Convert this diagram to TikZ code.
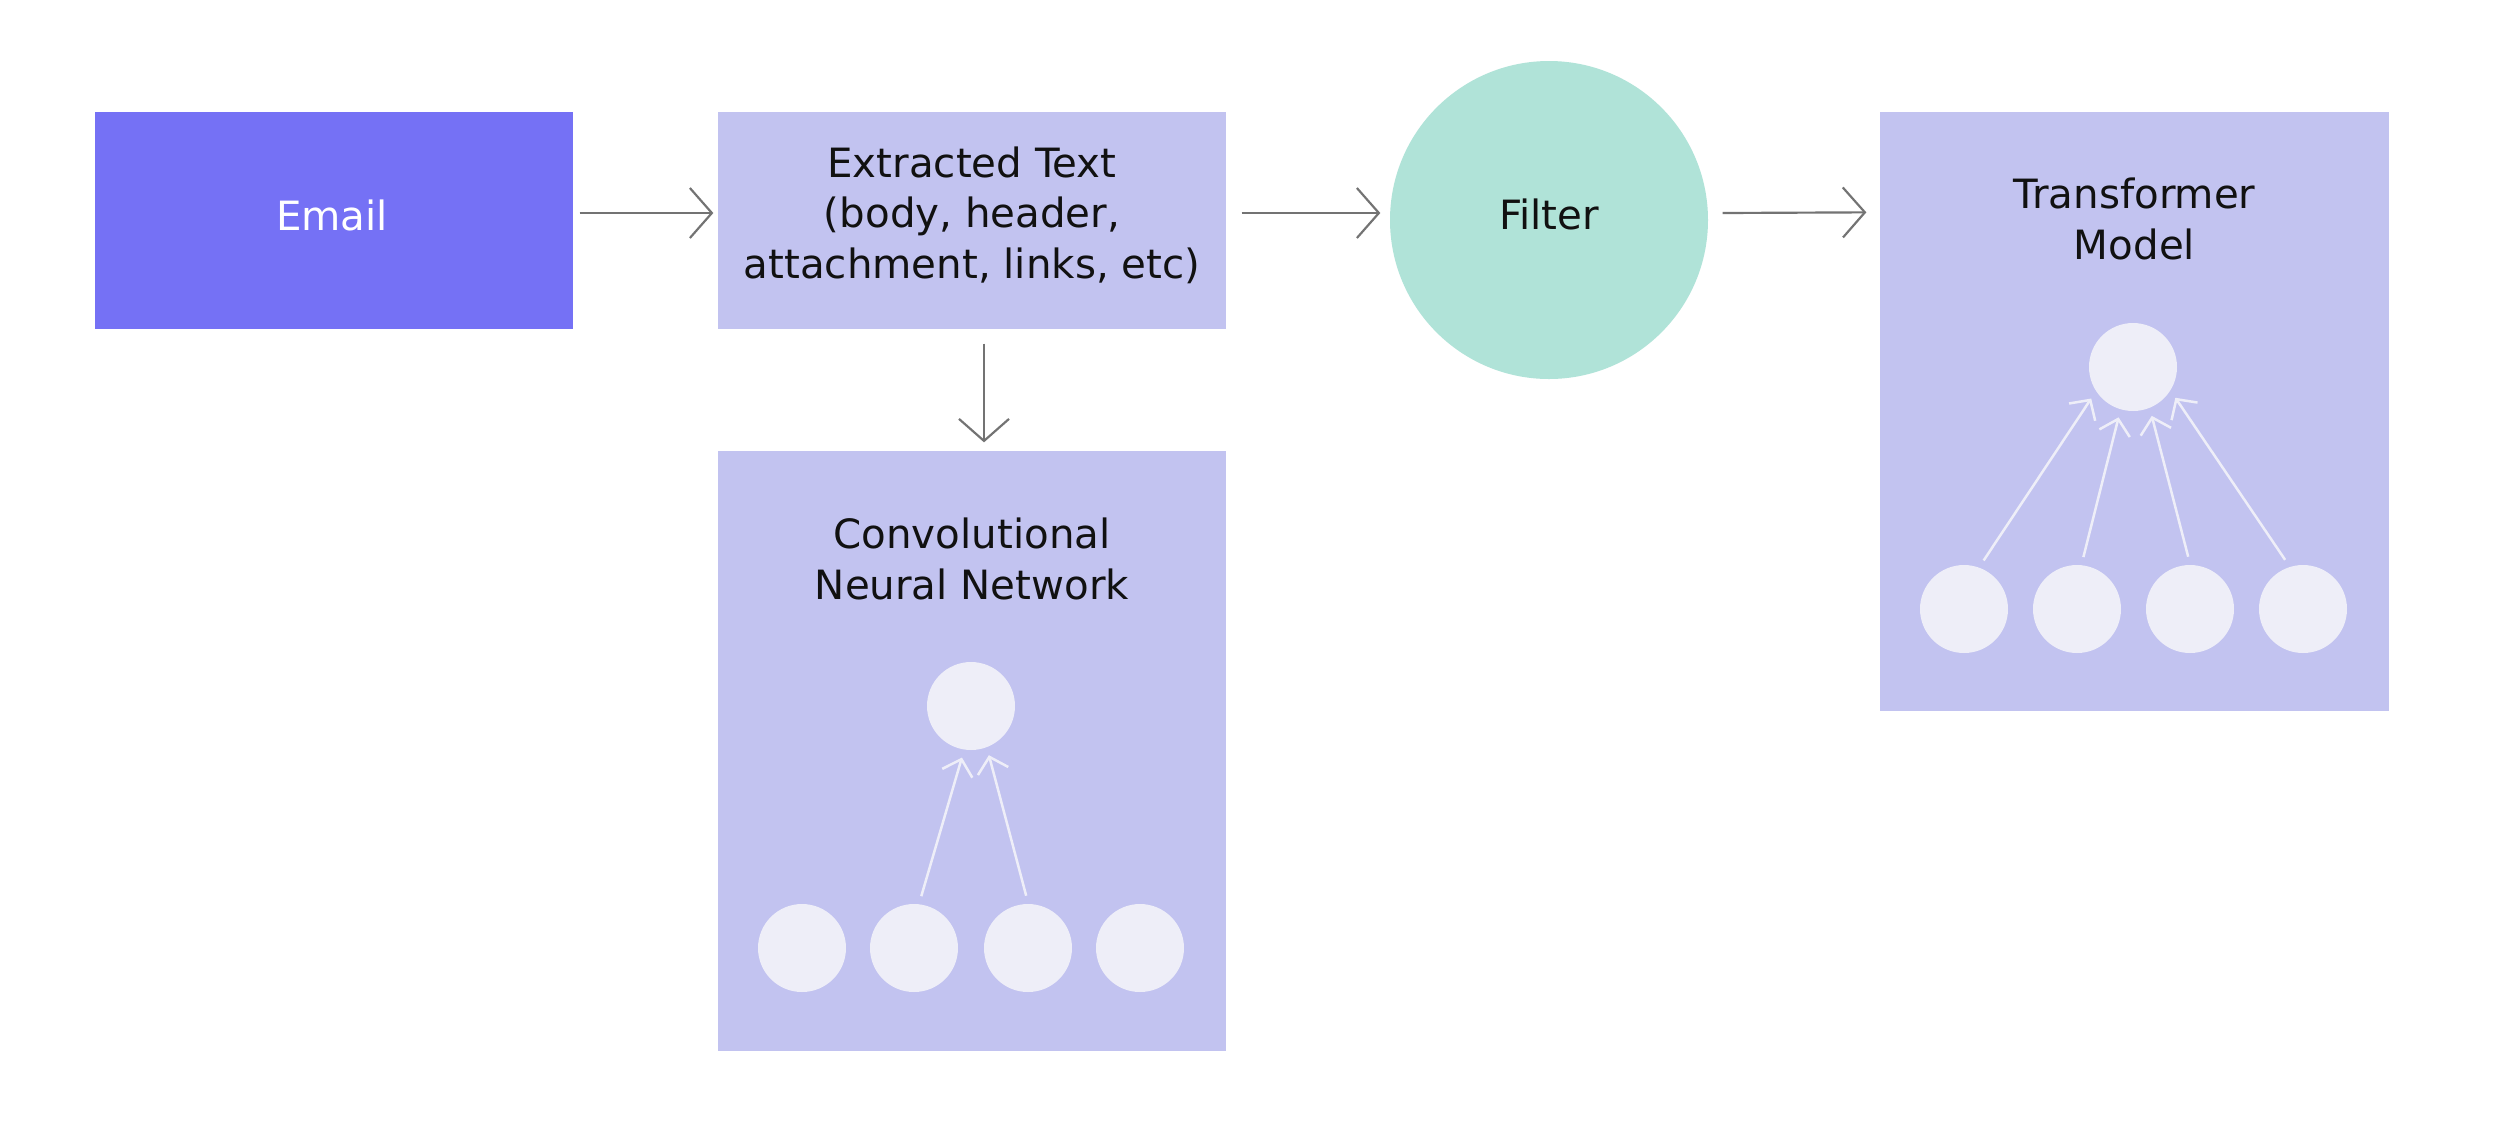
\documentclass[tikz,border=0pt]{standalone}
\usepackage{fontspec}
\setmainfont{DejaVu Sans}
\usetikzlibrary{arrows.meta,calc}
\definecolor{emailc}{HTML}{7571F5}
\definecolor{boxc}{HTML}{C2C3F0}
\definecolor{filterc}{HTML}{B0E3D8}
\definecolor{dotc}{HTML}{EEEEF8}
\definecolor{arrowc}{HTML}{737373}
\definecolor{textc}{HTML}{111111}
\begin{document}
\begin{tikzpicture}[x=0.3pt,y=-0.3pt,
  font=\fontsize{12.1pt}{15.2pt}\selectfont,
  lightbox/.style={rectangle, fill=boxc, inner sep=0pt, minimum width=152.4pt},
  label/.style={align=center, text=textc, inner sep=0pt},
  dot/.style={circle, fill=dotc, inner sep=0pt, minimum size=26.4pt, outer sep=2.5pt},
  flow/.style={draw=arrowc, line width=0.65pt, -{Straight Barb[length=6.6pt, width=15pt, line width=0.65pt]}},
  warrow/.style={draw=dotc, line width=0.75pt, -{Straight Barb[length=4.4pt, width=9.4pt, line width=0.75pt]}}
]
\useasboundingbox[fill=white] (0,0) rectangle (2517,1130);

% main nodes
\node[rectangle, fill=emailc, inner sep=0pt, minimum width=143.4pt, minimum height=65.1pt] (email) at (334,220.5) {};
\node[label, text=white] (emailtext) at (332,215) {Email};
\node[lightbox, minimum height=65.1pt] (ext) at (972,220.5) {};
\node[label] (exttext) at (972,215) {Extracted Text\\(body, header,\\attachment, links, etc)};
\node[circle, fill=filterc, inner sep=0pt, minimum size=95.4pt] (filter) at (1549,220) {};
\node[label] (filtertext) at (1549,214) {Filter};
\node[lightbox, minimum width=152.7pt, minimum height=179.7pt] (tr) at (2134.5,411.5) {};
\node[label] (trtext) at (2134.5,219) {Transformer\\Model};
\node[lightbox, minimum height=180pt] (cnn) at (972,751) {};
\node[label] (cnntext) at (972,559) {Convolutional\\Neural Network};

% CNN small network
\node[dot] (ctop) at (971,706) {};
\node[dot] (cb1) at (802,948) {};
\node[dot] (cb2) at (914,948) {};
\node[dot] (cb3) at (1028,948) {};
\node[dot] (cb4) at (1140,948) {};
\draw[warrow] (cb2.82) -- (ctop.260);
\draw[warrow] (cb3.92) -- (ctop.290);

% Transformer small network
\node[dot] (ttop) at (2133,367) {};
\node[dot] (tb1) at (1964,609) {};
\node[dot] (tb2) at (2077,609) {};
\node[dot] (tb3) at (2190,609) {};
\node[dot] (tb4) at (2303,609) {};
\draw[warrow] (tb1.68) -- (ttop.217);
\draw[warrow] (tb2.83) -- (ttop.254);
\draw[warrow] (tb3.92) -- (ttop.291);
\draw[warrow] (tb4.110) -- (ttop.324);

% main connectors
\draw[flow] ($(email.east)+(6,-7.5)$) -- ($(ext.west)+(-4,-7.5)$);
\draw[flow] ($(ext.east)+(15,-7.5)$) -- ($(filter.west)+(-9,-7)$);
\draw[flow] ($(filter.east)+(14,-7)$) -- ($(tr.north west)+(-13,101)$);
\draw[flow] ($(ext.south)+(12,14)$) -- ($(cnn.north)+(12,-8)$);
\end{tikzpicture}
\end{document}
